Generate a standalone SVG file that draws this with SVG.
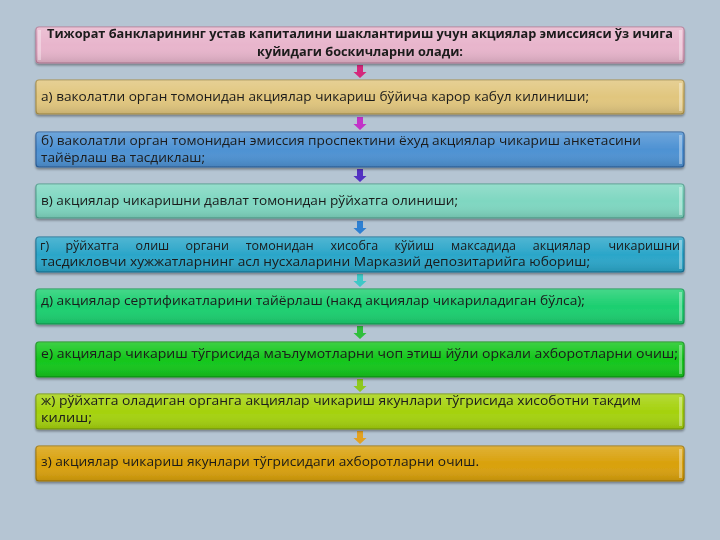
<svg xmlns="http://www.w3.org/2000/svg" width="720" height="540" viewBox="0 0 720 540">
<defs>
<style>
.bx{stroke-width:1.2}
.t{font-family:"Open Sans","Noto Sans","Liberation Sans",sans-serif;font-size:12.5px;fill:#1a1a1a}
.tb{font-family:"Open Sans","Noto Sans","Liberation Sans",sans-serif;font-size:12.5px;font-weight:bold;fill:#1a1a1a}
.hl{fill:#ffffff;opacity:0.35}
</style>
<linearGradient id="shade" x1="0" y1="0" x2="0" y2="1">
<stop offset="0" stop-color="#ffffff" stop-opacity="0.18"/>
<stop offset="0.5" stop-color="#ffffff" stop-opacity="0"/>
<stop offset="1" stop-color="#000000" stop-opacity="0.12"/>
</linearGradient>
<filter id="sh" x="-5%" y="-20%" width="110%" height="150%">
<feDropShadow dx="0" dy="2" stdDeviation="1.2" flood-color="#000" flood-opacity="0.35"/>
</filter>
<path id="arr" d="M-3,0 H3 V7 H6.5 L0,13 L-6.5,7 H-3 Z"/>
</defs>
<rect width="720" height="540" fill="#b5c5d3"/>

<g id="connectors">
<use href="#arr" x="360" y="65" fill="#d4287c"/>
<use href="#arr" x="360" y="117" fill="#c232c8"/>
<use href="#arr" x="360" y="169" fill="#5232c2"/>
<use href="#arr" x="360" y="221" fill="#2e80d2"/>
<use href="#arr" x="360" y="274" fill="#3ec8c6"/>
<use href="#arr" x="360" y="326" fill="#2ebf3c"/>
<use href="#arr" x="360" y="379" fill="#8ec81e"/>
<use href="#arr" x="360" y="431" fill="#e2a222"/>
</g>

<g id="title" filter="url(#sh)">
<rect class="bx" x="36" y="27" width="648" height="36" rx="3" fill="#e8b5cc" stroke="#b77e98"/>
<rect x="36" y="27" width="648" height="36" rx="3" fill="url(#shade)"/>
<rect class="hl" x="38" y="30" width="3" height="30"/><rect class="hl" x="679" y="30" width="3" height="30"/>
<text class="tb" x="360" y="38" text-anchor="middle" textLength="626" lengthAdjust="spacingAndGlyphs">Тижорат банкларининг устав капиталини шаклантириш учун акциялар эмиссияси ўз ичига</text>
<text class="tb" x="360" y="56" text-anchor="middle" textLength="206" lengthAdjust="spacingAndGlyphs">куйидаги боскичларни олади:</text>
</g>

<g id="step-a" filter="url(#sh)">
<rect class="bx" x="36" y="80" width="648" height="34" rx="3" fill="#e1c67e" stroke="#a88f4a"/>
<rect x="36" y="80" width="648" height="34" rx="3" fill="url(#shade)"/>
<rect class="hl" x="679" y="83" width="3" height="28"/>
<text class="t" x="41" y="101" textLength="548" lengthAdjust="spacingAndGlyphs">а) ваколатли орган томонидан акциялар чикариш бўйича карор кабул килиниши;</text>
</g>

<g id="step-b" filter="url(#sh)">
<rect class="bx" x="36" y="132" width="648" height="35" rx="3" fill="#4e92d3" stroke="#2d619c"/>
<rect x="36" y="132" width="648" height="35" rx="3" fill="url(#shade)"/>
<rect class="hl" x="679" y="135" width="3" height="29"/>
<text class="t" x="41" y="145" textLength="600" lengthAdjust="spacingAndGlyphs">б) ваколатли орган томонидан эмиссия проспектини  ёхуд акциялар чикариш анкетасини</text>
<text class="t" x="41" y="162" textLength="164" lengthAdjust="spacingAndGlyphs">тайёрлаш ва тасдиклаш;</text>
</g>

<g id="step-v" filter="url(#sh)">
<rect class="bx" x="36" y="184" width="648" height="34" rx="3" fill="#7fd7c1" stroke="#4f9e8c"/>
<rect x="36" y="184" width="648" height="34" rx="3" fill="url(#shade)"/>
<rect class="hl" x="679" y="187" width="3" height="28"/>
<text class="t" x="41" y="205" textLength="417" lengthAdjust="spacingAndGlyphs">в) акциялар чикаришни давлат томонидан рўйхатга олиниши;</text>
</g>

<g id="step-g" filter="url(#sh)">
<rect class="bx" x="36" y="237" width="648" height="35" rx="3" fill="#2ba6c9" stroke="#1a7395"/>
<rect x="36" y="237" width="648" height="35" rx="3" fill="url(#shade)"/>
<rect class="hl" x="679" y="240" width="3" height="29"/>
<text class="t" y="250"><tspan x="40">г)</tspan> <tspan x="65.4">рўйхатга</tspan> <tspan x="135.5">олиш</tspan> <tspan x="185.6">органи</tspan> <tspan x="245.7">томонидан</tspan> <tspan x="330.4">хисобга</tspan> <tspan x="394.5">кўйиш</tspan> <tspan x="451.1">максадида</tspan> <tspan x="532.8">акциялар</tspan></text>
<text class="t" x="680" y="250" text-anchor="end">чикаришни</text>
<text class="t" x="41" y="266" textLength="549" lengthAdjust="spacingAndGlyphs">тасдикловчи хужжатларнинг асл нусхаларини Марказий депозитарийга юбориш;</text>
</g>

<g id="step-d" filter="url(#sh)">
<rect class="bx" x="36" y="289" width="648" height="35" rx="3" fill="#1ccf70" stroke="#139a50"/>
<rect x="36" y="289" width="648" height="35" rx="3" fill="url(#shade)"/>
<rect class="hl" x="679" y="292" width="3" height="29"/>
<text class="t" x="41" y="305" textLength="544" lengthAdjust="spacingAndGlyphs">д) акциялар сертификатларини тайёрлаш (накд акциялар чикариладиган бўлса);</text>
</g>

<g id="step-e" filter="url(#sh)">
<rect class="bx" x="36" y="342" width="648" height="35" rx="3" fill="#14c61c" stroke="#0e9214"/>
<rect x="36" y="342" width="648" height="35" rx="3" fill="url(#shade)"/>
<rect class="hl" x="679" y="345" width="3" height="29"/>
<text class="t" x="41" y="358" textLength="637" lengthAdjust="spacingAndGlyphs">е) акциялар чикариш тўгрисида маълумотларни чоп этиш йўли оркали ахборотларни очиш;</text>
</g>

<g id="step-zh" filter="url(#sh)">
<rect class="bx" x="36" y="394" width="648" height="35" rx="3" fill="#a5d20e" stroke="#789a0a"/>
<rect x="36" y="394" width="648" height="35" rx="3" fill="url(#shade)"/>
<rect class="hl" x="679" y="397" width="3" height="29"/>
<text class="t" x="41" y="405" textLength="600" lengthAdjust="spacingAndGlyphs">ж) рўйхатга оладиган органга акциялар чикариш якунлари тўгрисида хисоботни такдим</text>
<text class="t" x="41" y="422" textLength="51" lengthAdjust="spacingAndGlyphs">килиш;</text>
</g>

<g id="step-z" filter="url(#sh)">
<rect class="bx" x="36" y="446" width="648" height="35" rx="3" fill="#d9a10c" stroke="#a07606"/>
<rect x="36" y="446" width="648" height="35" rx="3" fill="url(#shade)"/>
<rect class="hl" x="679" y="449" width="3" height="29"/>
<text class="t" x="41" y="466" textLength="438" lengthAdjust="spacingAndGlyphs">з) акциялар чикариш якунлари тўгрисидаги ахборотларни очиш.</text>
</g>
</svg>
